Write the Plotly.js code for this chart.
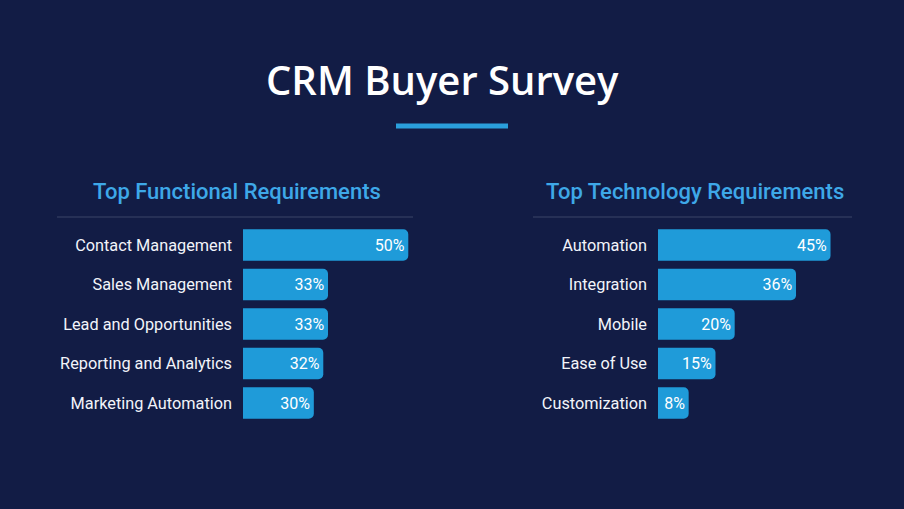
<!DOCTYPE html>
<html>
<head>
<meta charset="utf-8">
<script src="https://cdn.plot.ly/plotly-3.0.1.min.js"></script>
<style>
  html, body { margin: 0; padding: 0; background: #121c45; }
  #chart { width: 904px; height: 509px; }
</style>
</head>
<body>
<div id="chart"></div>
<script>
// Survey data
const functionalLabels = ['Contact Management', 'Sales Management', 'Lead and Opportunities', 'Reporting and Analytics', 'Marketing Automation'];
const functionalValues = [50, 33, 33, 32, 30];

const technologyLabels = ['Automation', 'Integration', 'Mobile', 'Ease of Use', 'Customization'];
const technologyValues = [45, 36, 20, 15, 8];

const W = 904, H = 509;
const px = x => x / W;
const py = y => 1 - y / H;

const BG = '#121c45';
const BAR = '#1f9bd9';
const HEAD = '#3ea8e8';

function barTrace(labels, values, xa, ya) {
    return {
        type: 'bar',
        orientation: 'h',
        y: labels,
        x: values,
        xaxis: xa,
        yaxis: ya,
        marker: { color: BAR },
        text: values.map(v => v + '%'),
        textposition: 'inside',
        insidetextanchor: 'end',
        textfont: { family: 'Roboto', size: 16, color: '#ffffff' },
        hoverinfo: 'skip'
    };
}

const yDomain = [py(422.75), py(225.25)];

const yAxisBase = {
    domain: yDomain,
    type: 'category',
    autorange: 'reversed',
    showgrid: false,
    zeroline: false,
    showline: false,
    ticks: '',
    ticklabelstandoff: 10,
    tickfont: { family: 'Roboto', size: 16.3, color: '#f2f4fa' }
};

const layout = {
    width: W,
    height: H,
    margin: { t: 0, b: 0, l: 0, r: 0 },
    paper_bgcolor: BG,
    plot_bgcolor: BG,
    showlegend: false,
    bargap: 0.2,
    barcornerradius: 5,
    xaxis: {
        domain: [px(243), px(413)],
        range: [15, 51],
        visible: false,
        fixedrange: true
    },
    yaxis: Object.assign({ anchor: 'x' }, yAxisBase),
    xaxis2: {
        domain: [px(658), px(852)],
        range: [0, 50.6],
        visible: false,
        fixedrange: true
    },
    yaxis2: Object.assign({ anchor: 'x2' }, yAxisBase),
    annotations: [
        {
            text: 'CRM Buyer Survey',
            x: px(442), y: py(80), xref: 'paper', yref: 'paper',
            xanchor: 'center', yanchor: 'middle', showarrow: false,
            font: { family: 'Open Sans', size: 40, color: '#ffffff', weight: 600 }
        },
        {
            text: 'Top Functional Requirements',
            x: px(237), y: py(191), xref: 'paper', yref: 'paper',
            xanchor: 'center', yanchor: 'middle', showarrow: false,
            font: { family: 'Roboto', size: 22, color: HEAD, weight: 500 }
        },
        {
            text: 'Top Technology Requirements',
            x: px(695), y: py(191), xref: 'paper', yref: 'paper',
            xanchor: 'center', yanchor: 'middle', showarrow: false,
            font: { family: 'Roboto', size: 22, color: HEAD, weight: 500 }
        }
    ],
    shapes: [
        {
            type: 'line', xref: 'paper', yref: 'paper',
            x0: px(396), x1: px(508), y0: py(126), y1: py(126),
            line: { color: '#2a9fdc', width: 5 }
        },
        {
            type: 'line', xref: 'paper', yref: 'paper',
            x0: px(57), x1: px(413), y0: py(217), y1: py(217),
            line: { color: '#3a4469', width: 1 }
        },
        {
            type: 'line', xref: 'paper', yref: 'paper',
            x0: px(533), x1: px(852), y0: py(217), y1: py(217),
            line: { color: '#3a4469', width: 1 }
        }
    ]
};

Plotly.newPlot('chart', [
    barTrace(functionalLabels, functionalValues, 'x', 'y'),
    barTrace(technologyLabels, technologyValues, 'x2', 'y2')
], layout, { displayModeBar: false, staticPlot: true });
</script>
</body>
</html>
